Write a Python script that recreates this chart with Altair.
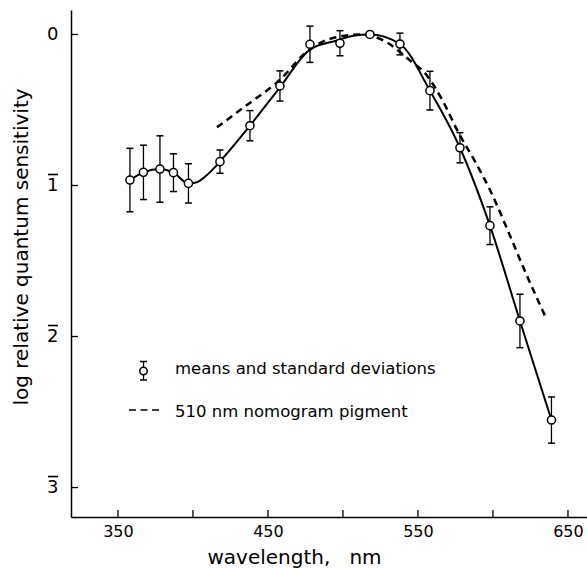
import altair as alt
import pandas as pd

# ---- data ----
wavelength = [358, 367, 378, 387, 397, 418, 438, 458, 478, 498, 518, 538, 558, 578, 598, 618, 639]
mean_log = [0.964, 0.913, 0.891, 0.915, 0.986, 0.842, 0.604, 0.341, 0.065, 0.058, 0.0, 0.063,
            0.372, 0.75, 1.266, 1.897, 2.553]
sd_log = [0.21, 0.18, 0.22, 0.125, 0.13, 0.077, 0.10, 0.10, 0.12, 0.083, 0.0, 0.072,
          0.128, 0.10, 0.125, 0.177, 0.153]

curve_wl = [358, 367, 378, 387, 397, 402, 408, 415, 418, 438, 458, 478, 496, 507, 518,
            538, 558, 578, 598, 618, 639]
curve_val = [0.964, 0.913, 0.891, 0.915, 0.986, 0.98, 0.942, 0.875, 0.842, 0.604, 0.35,
             0.10, 0.04, 0.008, 0.0, 0.063, 0.372, 0.75, 1.266, 1.897, 2.553]

nomo_wl = [416, 436, 458, 476, 486, 497, 512, 528, 545, 555, 566, 577, 588, 599, 610, 621, 636]
nomo_val = [0.615, 0.467, 0.30, 0.114, 0.05, 0.015, 0.0, 0.045, 0.175, 0.26, 0.43, 0.65,
            0.84, 1.05, 1.30, 1.56, 1.89]

x_labels = [350, 450, 550, 650]
x_ticks = [350, 400, 450, 500, 550, 600, 650]
y_ticks = [0, 1, 2, 3]
legend_labels = ["means and standard deviations", "510 nm nomogram pigment"]
x_title = "wavelength,\u00a0\u00a0\u00a0nm"
y_title = "log relative quantum sensitivity"

FONT = "DejaVu Sans"
W, H = 516, 507
X_DOMAIN = [318.7, 662.7]
Y_DOMAIN = [-0.162, 3.195]

pts = pd.DataFrame({"wl": wavelength, "m": mean_log, "sd": sd_log})
pts["lo"] = pts["m"] - pts["sd"]
pts["hi"] = pts["m"] + pts["sd"]
curve = pd.DataFrame({"wl": curve_wl, "v": curve_val})
nomo = pd.DataFrame({"wl": nomo_wl, "v": nomo_val})
xt = pd.DataFrame({"t": x_ticks})
yt = pd.DataFrame({"t": y_ticks})
leg = pd.DataFrame({"label": legend_labels, "i": [0, 1]})

xs = alt.Scale(domain=X_DOMAIN, nice=False, zero=False)
ys = alt.Scale(domain=Y_DOMAIN, nice=False, zero=False, reverse=True)

x_axis = alt.Axis(values=x_labels, ticks=False, grid=False, format="d",
                  domainColor="black", domainWidth=1.5,
                  labelFontSize=16, labelPadding=6, labelColor="black",
                  title=x_title, titleFontSize=20, titleFontWeight="normal",
                  titleX=223, titleY=46, titleBaseline="alphabetic", titleAlign="center",
                  titleColor="black")
y_axis = alt.Axis(values=y_ticks, ticks=False, grid=False, format="d",
                  domainColor="black", domainWidth=1.5,
                  labelFontSize=18, labelPadding=13, labelColor="black",
                  title=y_title, titleFontSize=20, titleFontWeight="normal",
                  titleX=-44, titleY=236.5, titleAngle=270, titleBaseline="alphabetic",
                  titleAlign="center", titleColor="black")


def X(field):
    return alt.X(f"{field}:Q", scale=xs, axis=x_axis)


def Y(field):
    return alt.Y(f"{field}:Q", scale=ys, axis=y_axis)


nomo_line = alt.Chart(nomo).mark_line(
    color="black", strokeWidth=2.5, strokeDash=[7, 5], interpolate="monotone"
).encode(x=X("wl"), y=Y("v"))

solid_line = alt.Chart(curve).mark_line(
    color="black", strokeWidth=2, interpolate="monotone"
).encode(x=X("wl"), y=Y("v"))

err = alt.Chart(pts).mark_rule(color="black", strokeWidth=1.3).encode(
    x=X("wl"), y=Y("lo"), y2="hi")
cap_lo = alt.Chart(pts).mark_tick(color="black", orient="horizontal", size=7,
                                  thickness=1.5, opacity=1).encode(x=X("wl"), y=Y("lo"))
cap_hi = alt.Chart(pts).mark_tick(color="black", orient="horizontal", size=7,
                                  thickness=1.5, opacity=1).encode(x=X("wl"), y=Y("hi"))

points = alt.Chart(pts).mark_point(
    shape="circle", filled=True, fill="white", stroke="black", strokeWidth=1.5,
    size=66, opacity=1
).encode(x=X("wl"), y=Y("m"))

xtick_marks = alt.Chart(xt).mark_rule(color="black", strokeWidth=1.3).encode(
    x=X("t"), y=alt.value(H), y2=alt.value(H - 7))
ytick_marks = alt.Chart(yt).mark_rule(color="black", strokeWidth=1.3).encode(
    y=Y("t"), x=alt.value(0), x2=alt.value(7))
# bar-notation (negative characteristic) overbars on the y labels 1, 2, 3
ylabel_bars = alt.Chart(yt).transform_filter("datum.t > 0").mark_rule(
    color="black", strokeWidth=1.6, yOffset=-11
).encode(y=Y("t"), x=alt.value(-23), x2=alt.value(-13))

# ---- legend ----
leg_text0 = alt.Chart(leg).transform_filter("datum.i == 0").mark_text(
    font=FONT, fontSize=16.5, align="left", baseline="alphabetic", color="black"
).encode(text="label:N", x=alt.value(104), y=alt.value(364))
leg_text1 = alt.Chart(leg).transform_filter("datum.i == 1").mark_text(
    font=FONT, fontSize=16.5, align="left", baseline="alphabetic", color="black"
).encode(text="label:N", x=alt.value(104), y=alt.value(407))

leg_src = alt.Chart(leg).transform_filter("datum.i == 0")
leg_err = leg_src.mark_rule(color="black", strokeWidth=1.3).encode(
    x=alt.value(72.5), y=alt.value(351.5), y2=alt.value(370))
leg_cap1 = leg_src.mark_rule(color="black", strokeWidth=1.5).encode(
    x=alt.value(69), x2=alt.value(76), y=alt.value(351.5))
leg_cap2 = leg_src.mark_rule(color="black", strokeWidth=1.5).encode(
    x=alt.value(69), x2=alt.value(76), y=alt.value(370))
leg_pt = leg_src.mark_point(
    shape="circle", filled=True, fill="white", stroke="black", strokeWidth=1.5,
    size=55, opacity=1
).encode(x=alt.value(72.5), y=alt.value(361))
leg_dash = alt.Chart(leg).transform_filter("datum.i == 1").mark_rule(
    color="black", strokeWidth=1.5, strokeDash=[7, 4.5]
).encode(x=alt.value(58), x2=alt.value(88), y=alt.value(400))

chart = alt.layer(
    nomo_line, solid_line, err, cap_lo, cap_hi, points, xtick_marks, ytick_marks,
    ylabel_bars, leg_text0, leg_text1, leg_err, leg_cap1, leg_cap2, leg_pt, leg_dash
).properties(
    width=W, height=H,
    autosize=alt.AutoSizeParams(type="none"),
    padding={"left": 71, "top": 10, "right": 0, "bottom": 52},
    background="white",
).configure_view(stroke=None).configure_axis(
    labelFont=FONT, titleFont=FONT
)

chart.save("out.html", embed_options={"renderer": "svg", "actions": False})
